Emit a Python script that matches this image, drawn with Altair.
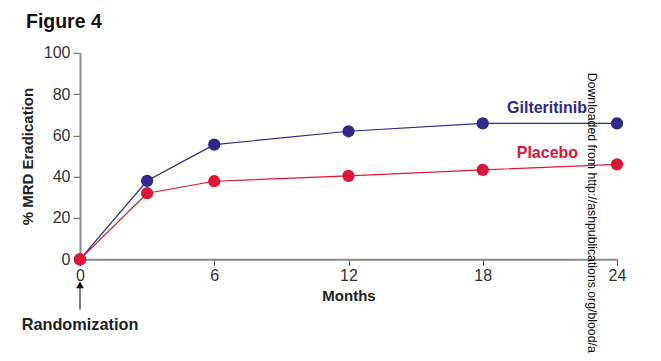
import altair as alt
import pandas as pd

months = [0, 3, 6, 12, 18, 24]
gilteritinib = [0, 38, 55.5, 62, 65.8, 65.8]
placebo = [0, 32, 37.8, 40.4, 43.3, 46]
series_names = ["Gilteritinib", "Placebo"]
colors = ["#2d2a8c", "#dc1636"]
x_ticks = [0, 6, 12, 18, 24]
y_ticks = [0, 20, 40, 60, 80, 100]

rows = []
for name, vals in zip(series_names, [gilteritinib, placebo]):
    for m, v in zip(months, vals):
        rows.append({"Months": m, "Value": v, "Series": name})
df = pd.DataFrame(rows)
df["order"] = df["Series"].map({"Gilteritinib": 0, "Placebo": 1})

FONT = "Liberation Sans"
W, H = 537, 206.5

x = alt.X("Months:Q", scale=alt.Scale(domain=[0, 24], nice=False),
          axis=alt.Axis(values=x_ticks, title="Months", titleFontWeight="bold",
                        titleFontSize=15, titleColor="#222", titlePadding=5,
                        labelFontSize=16, labelColor="#333", tickSize=6,
                        tickColor="#555", domainColor="#8a8a8a", domainWidth=2,
                        labelPadding=2, labelFlush=False, grid=False))
y = alt.Y("Value:Q", scale=alt.Scale(domain=[0, 100], nice=False),
          axis=alt.Axis(values=y_ticks, title="% MRD Eradication", titleFontWeight="bold",
                        titleFontSize=15, titleColor="#222", titlePadding=8,
                        labelFontSize=16, labelColor="#333", tickSize=7,
                        tickColor="#555", domainColor="#8a8a8a", domainWidth=2,
                        labelPadding=3, labelFlush=False, grid=False))
color = alt.Color("Series:N", scale=alt.Scale(domain=series_names, range=colors), legend=None)

base = alt.Chart(df)
lines = base.mark_line(strokeWidth=1.2).encode(x=x, y=y, color=color, detail="Series:N")
points = base.mark_circle(size=150, opacity=1).encode(x=x, y=y, color=color, order="order:Q")

label_df = pd.DataFrame({"Series": series_names, "Months": [22.66, 22.26], "Value": [73.4, 51.5]})
labels = alt.Chart(label_df).mark_text(align="right", baseline="middle", fontWeight="bold",
                                       fontSize=16, font=FONT).encode(
    x=alt.X("Months:Q"), y=alt.Y("Value:Q"), text="Series:N", color=color)

fig_title = alt.Chart(pd.DataFrame({"t": ["Figure 4"]})).mark_text(
    align="left", baseline="middle", fontWeight="bold", fontSize=19.5, font=FONT, color="#111").encode(
    x=alt.value(-54), y=alt.value(-31), text="t:N")

rand_text = alt.Chart(pd.DataFrame({"t": ["Randomization"]})).mark_text(
    align="center", baseline="middle", fontWeight="bold", fontSize=16.3, font=FONT, color="#222").encode(
    x=alt.value(0), y=alt.value(272), text="t:N")

arrow_line = alt.Chart(pd.DataFrame({"a": [1]})).mark_rule(color="#555", strokeWidth=1.5).encode(
    x=alt.value(0), y=alt.value(234), y2=alt.value(257))
arrow_head = alt.Chart(pd.DataFrame({"a": [1]})).mark_point(
    shape="triangle-up", filled=True, size=60, color="#111", opacity=1).encode(
    x=alt.value(0), y=alt.value(232))

watermark = alt.Chart(pd.DataFrame({"t": ["Downloaded from http://ashpublications.org/blood/artic"]})).mark_text(
    align="left", baseline="middle", angle=90, fontSize=12.3, font=FONT, color="#111").encode(
    x=alt.value(512), y=alt.value(20), text="t:N")

chart = alt.layer(lines, points, labels, fig_title, rand_text, arrow_line, arrow_head, watermark).properties(
    width=W, height=H,
    autosize=alt.AutoSizeParams(type="none"),
    padding={"left": 72, "top": 44.8, "right": 36, "bottom": 94},
).configure_view(stroke=None).configure_axis(labelFont=FONT, titleFont=FONT)

chart.save("out.html", embed_options={"renderer": "svg", "actions": False})
